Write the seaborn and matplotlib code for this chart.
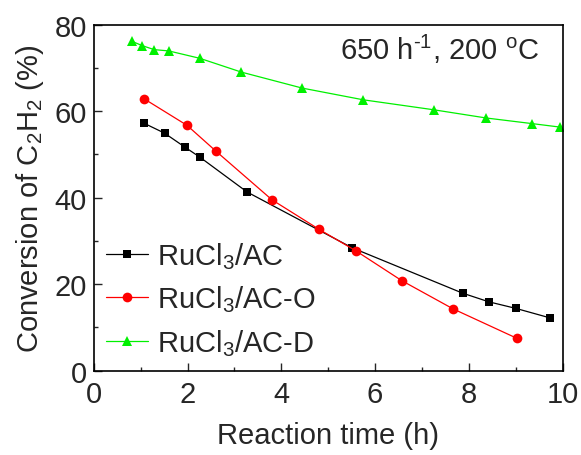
import numpy as np
import pandas as pd
import matplotlib
matplotlib.use("Agg")
import matplotlib.pyplot as plt
import seaborn as sns

# Data
t_ac = [1.07, 1.51, 1.94, 2.27, 3.27, 5.51, 7.87, 8.43, 9.00, 9.73]
c_ac = [57.2, 54.9, 51.7, 49.3, 41.3, 28.4, 17.9, 15.9, 14.4, 12.2]

t_ao = [1.08, 1.99, 2.61, 3.80, 4.80, 5.59, 6.57, 7.66, 9.02]
c_ao = [62.8, 56.7, 50.7, 39.5, 32.7, 27.7, 20.8, 14.3, 7.5]

t_ad = [0.82, 1.04, 1.29, 1.60, 2.26, 3.15, 4.45, 5.75, 7.25, 8.37, 9.35, 9.94]
c_ad = [76.1, 75.1, 74.2, 73.9, 72.2, 69.0, 65.3, 62.6, 60.3, 58.4, 57.1, 56.3]

labels = ["RuCl$_3$/AC", "RuCl$_3$/AC-O", "RuCl$_3$/AC-D"]
xticks = [0, 2, 4, 6, 8, 10]
yticks = [0, 20, 40, 60, 80]

df = pd.concat([
    pd.DataFrame({"t": t_ac, "c": c_ac, "s": labels[0]}),
    pd.DataFrame({"t": t_ao, "c": c_ao, "s": labels[1]}),
    pd.DataFrame({"t": t_ad, "c": c_ad, "s": labels[2]}),
], ignore_index=True)

sns.set_theme(style="ticks")
plt.rcParams["font.family"] = ["Liberation Sans", "DejaVu Sans"]
plt.rcParams["mathtext.fontset"] = "custom"
plt.rcParams["mathtext.rm"] = "Liberation Sans"
plt.rcParams["mathtext.it"] = "Liberation Sans"
plt.rcParams["mathtext.default"] = "regular"

FS = 21

fig = plt.figure(figsize=(5.81, 4.56), dpi=100)
ax = fig.add_axes([0.1613, 0.1849, 0.9685 - 0.1613, 0.944 - 0.1849])

palette = {labels[0]: "#000000", labels[1]: "#FF0000", labels[2]: "#00F000"}
markers = {labels[0]: "s", labels[1]: "o", labels[2]: "^"}
sizes_m = {labels[0]: 6.0, labels[1]: 7.0, labels[2]: 7.5}

for lab in labels:
    sub = df[df["s"] == lab]
    sns.lineplot(data=sub, x="t", y="c", ax=ax, color=palette[lab],
                 marker=markers[lab], markersize=sizes_m[lab],
                 markeredgewidth=0, linewidth=0.9, label=lab,
                 estimator=None, sort=False)

ax.set_xlim(0, 10)
ax.set_ylim(0, 80)
ax.set_xticks(xticks)
ax.set_yticks(yticks)
ax.set_xticks([1, 3, 5, 7, 9], minor=True)
ax.set_yticks([10, 30, 50, 70], minor=True)
ax.tick_params(which="major", direction="in", length=6, width=1, labelsize=FS,
               top=False, right=False)
ax.tick_params(axis="x", which="major", pad=7)
ax.tick_params(axis="y", which="major", pad=5)
ax.tick_params(which="minor", direction="in", length=3, width=1,
               top=False, right=False)
for sp in ax.spines.values():
    sp.set_linewidth(1.2)
    sp.set_color("black")

ax.set_xlabel("Reaction time (h)", fontsize=FS, labelpad=9)
ax.set_ylabel("Conversion of C$_2$H$_2$ (%)", fontsize=FS, labelpad=6)

ax.text(0.951, 0.93, "650 h$^{\u2010 1}$, 200 $^{o}$C", transform=ax.transAxes,
        ha="right", va="center", fontsize=FS)

leg = ax.legend(loc="lower left", bbox_to_anchor=(-0.017, -0.021), frameon=False,
                fontsize=FS, handlelength=1.45, handletextpad=0.3,
                labelspacing=0.43, borderaxespad=0.3)

fig.savefig("out.png", dpi=100)
